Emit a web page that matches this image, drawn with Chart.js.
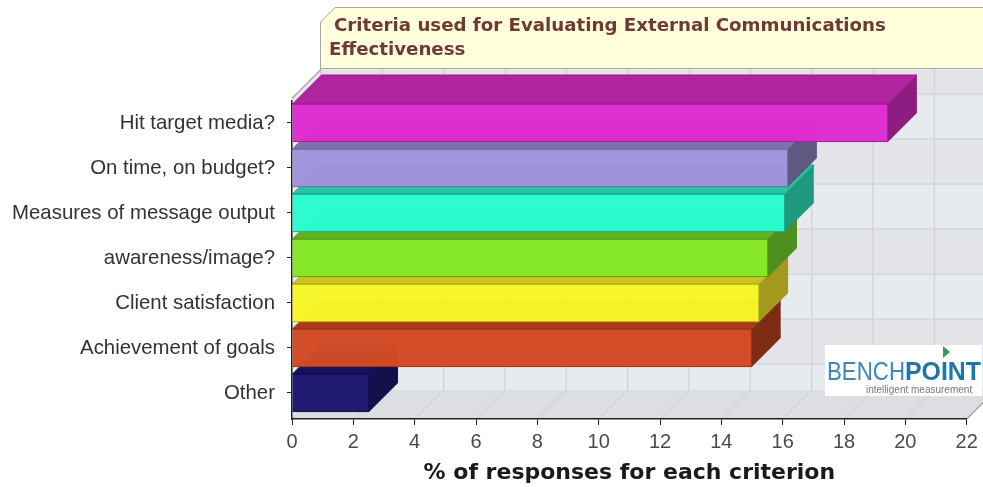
<!DOCTYPE html>
<html>
<head>
<meta charset="utf-8">
<title>External communications criteria</title>
<style>
  html, body { margin: 0; padding: 0; background: #fff; }
  #wrap { width: 983px; height: 487px; position: relative; overflow: hidden; }
  canvas { display: block; }
</style>
<script src="https://cdn.jsdelivr.net/npm/chart.js@4/dist/chart.umd.min.js"></script>
</head>
<body>
<div id="wrap"><canvas id="chart" width="983" height="487"></canvas></div>
<script>
const categories = [
    'Hit target media?',
    'On time, on budget?',
    'Measures of message output',
    'awareness/image?',
    'Client satisfaction',
    'Achievement of goals',
    'Other',
];
const responseShares = [19.43, 16.17, 16.07, 15.52, 15.23, 14.99, 2.51];

const titleLines = ['Criteria used for Evaluating External Communications', 'Effectiveness'];
const axisTitle = '% of responses for each criterion';

const frontColours = ['#de2ccf', '#a092dc', '#2bfbd0', '#85e827', '#f7f628', '#d24a24', '#1e1670'];
const topColours   = ['#b0249f', '#7d72ae', '#25c4a5', '#62b01e', '#cdc21e', '#a83b1c', '#181159'];
const sideColours  = ['#8b1e80', '#5f5880', '#1f9a80', '#4e8f20', '#a2991d', '#7f2c14', '#14104a'];
const edgeColours  = ['#a01c94', '#6f6699', '#1f9c84', '#4f9a1c', '#b0a81c', '#96321a', '#120d50'];

const DEPTH = 29; // how far the back wall sits behind the axes, up and to the right

function fillPoly(ctx, pts, fill, stroke) {
    ctx.beginPath();
    pts.forEach((p, i) => i ? ctx.lineTo(p[0], p[1]) : ctx.moveTo(p[0], p[1]));
    ctx.closePath();
    ctx.fillStyle = fill;
    ctx.fill();
    if (stroke) {
        ctx.strokeStyle = stroke;
        ctx.lineWidth = 1;
        ctx.stroke();
    }
}

// Back wall, left wall and floor go under the axes, then the top and side of each bar
const box3d = {
    id: 'box3d',
    beforeDraw(chart) {
        const { ctx, chartArea: a, scales: { x, y } } = chart;
        ctx.save();

        const wallL = a.left + DEPTH, wallR = a.right + DEPTH;
        const wallT = a.top - DEPTH - 2, wallB = a.bottom - DEPTH;

        ctx.fillStyle = '#e7eaee';
        ctx.fillRect(wallL, wallT, wallR - wallL, wallB - wallT);

        // alternating stripes between the category lines
        const rows = categories.map((c, i) => y.getPixelForValue(i) - DEPTH);
        ctx.fillStyle = '#e3e4e7';
        ctx.fillRect(wallL, wallT, wallR - wallL, rows[0] - wallT);
        for (let i = 1; i < rows.length - 1; i += 2) {
            ctx.fillRect(wallL, rows[i], wallR - wallL, rows[i + 1] - rows[i]);
        }

        fillPoly(ctx, [[a.left, a.top - 2], [wallL, wallT], [wallL, wallB], [a.left, a.bottom]], '#e9eaec');
        fillPoly(ctx, [[a.left, a.bottom], [a.right, a.bottom], [wallR, wallB], [wallL, wallB]], '#dcdee1');

        ctx.strokeStyle = '#d5d5d7';
        ctx.lineWidth = 1.5;
        ctx.beginPath();
        rows.forEach(r => { ctx.moveTo(wallL, r); ctx.lineTo(wallR, r); });
        ctx.stroke();

        x.ticks.forEach(t => {
            const px = x.getPixelForValue(t.value);
            ctx.beginPath();
            ctx.moveTo(px, a.bottom);
            ctx.lineTo(px + DEPTH, wallB);
            ctx.lineTo(px + DEPTH, wallT);
            ctx.stroke();
        });

        ctx.strokeStyle = '#a9a9ab';
        ctx.beginPath();
        ctx.moveTo(a.right, a.bottom);
        ctx.lineTo(wallR, wallB);
        ctx.moveTo(a.left, a.top - 2);
        ctx.lineTo(wallL, wallT);
        ctx.stroke();

        // lowest bar first so the upper ones overlap it
        const bars = chart.getDatasetMeta(0).data;
        for (let i = bars.length - 1; i >= 0; i--) {
            const b = bars[i];
            const t = b.y - b.height / 2, u = b.y + b.height / 2;
            fillPoly(ctx, [[b.x, t], [b.x + DEPTH, t - DEPTH], [b.x + DEPTH, u - DEPTH], [b.x, u]], sideColours[i]);
            fillPoly(ctx, [[b.base, t], [b.base + DEPTH, t - DEPTH], [b.x + DEPTH, t - DEPTH], [b.x, t]], topColours[i], edgeColours[i]);
        }
        ctx.restore();
    },
    afterDraw(chart) {
        const { ctx, width } = chart;
        ctx.save();

        // title banner with its clipped corner
        fillPoly(ctx, [[320.5, 22], [335, 7.5], [width + 2, 7.5], [width + 2, 68.5], [320.5, 68.5]], '#ffffdc', '#a6a69c');
        ctx.fillStyle = '#6f3a35';
        ctx.font = 'bold 18.2px "DejaVu Sans"';
        ctx.textBaseline = 'alphabetic';
        ctx.textAlign = 'left';
        ctx.fillText(titleLines[0], 334, 31);
        ctx.fillText(titleLines[1], 329, 55);

        // logo block, lettering squeezed to fit its width
        ctx.fillStyle = '#fff';
        ctx.fillRect(825, 345, 157, 51);
        fillPoly(ctx, [[943, 346], [950, 352], [943, 358]], '#2f9e57');
        ctx.font = '25px "Liberation Sans"';
        ctx.fillStyle = '#3c87b5';
        ctx.fillText('BENCH', 827, 380, 78);
        ctx.font = 'bold 25px "Liberation Sans"';
        ctx.fillStyle = '#1f76ad';
        ctx.fillText('POINT', 905, 380, 76);
        ctx.font = '10px "Liberation Sans"';
        ctx.fillStyle = '#777';
        ctx.fillText('intelligent measurement', 866, 393, 112);
        ctx.restore();
    },
};

new Chart(document.getElementById('chart'), {
    type: 'bar',
    data: {
        datasets: [{
            data: responseShares.map((v, i) => ({ x: v, y: i })),
            backgroundColor: frontColours.map(c => c + 'fa'),
            borderColor: edgeColours,
            borderWidth: 1,
            barThickness: 38,
        }],
    },
    plugins: [box3d],
    options: {
        indexAxis: 'y',
        responsive: false,
        animation: false,
        layout: { padding: { top: 100.5, right: 16.3 } },
        plugins: { legend: { display: false }, tooltip: { enabled: false } },
        scales: {
            x: {
                type: 'linear',
                min: 0,
                max: 22,
                afterFit(axis) { axis.height = 68; },
                grid: { drawOnChartArea: false, color: '#222', tickLength: 6 },
                border: { color: '#222', width: 1.5 },
                ticks: {
                    stepSize: 2,
                    padding: 5,
                    maxRotation: 0,
                    color: '#4a4a4a',
                    font: { family: 'Liberation Sans', size: 20 },
                },
                title: {
                    display: true,
                    text: axisTitle,
                    color: '#1a1a1a',
                    padding: { top: 6, bottom: 1 },
                    font: { family: 'DejaVu Sans', size: 22, weight: 'bold' },
                },
            },
            y: {
                type: 'linear',
                offset: false,
                reverse: true,
                min: -0.5,
                max: 6.578,
                afterFit(axis) { axis.width = 292; },
                afterBuildTicks(axis) { axis.ticks = categories.map((c, i) => ({ value: i })); },
                grid: { offset: false, drawOnChartArea: false, color: '#222', tickLength: 5 },
                border: { color: '#222', width: 1.5 },
                ticks: {
                    autoSkip: false,
                    padding: 12,
                    color: '#333',
                    font: { family: 'Liberation Sans', size: 20.4 },
                    callback: v => categories[v],
                },
            },
        },
    },
});
</script>
</body>
</html>
